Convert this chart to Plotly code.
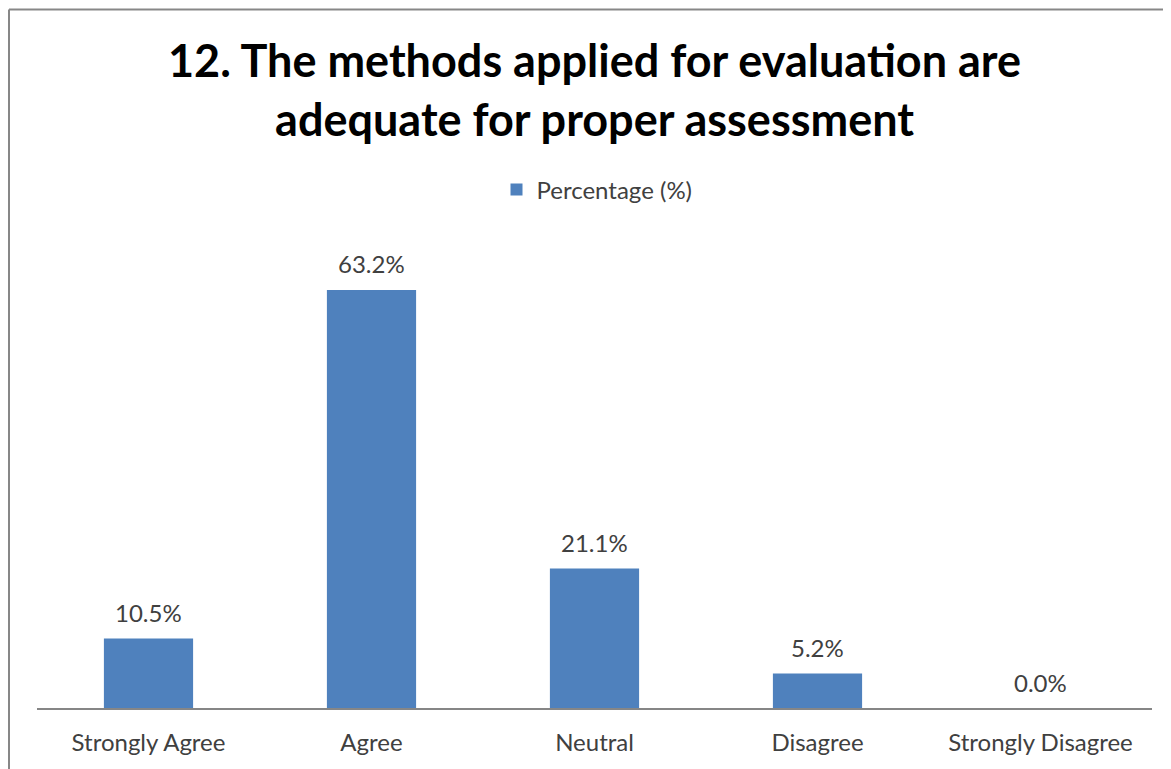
import plotly.graph_objects as go

categories = ["Strongly Agree", "Agree", "Neutral", "Disagree", "Strongly Disagree"]
values = [10.5, 63.2, 21.1, 5.2, 0.0]
series_name = "Percentage (%)"
title_lines = ["12. The methods applied for evaluation are", "adequate for proper assessment"]

# page is offset by 8px body margin; work in page pixel coordinates
OFF = 8
W, H = 1171 - OFF, 769 - OFF
PL, PR, PT, PB = 37, 1152, 245, 708  # plot area in page px
L, R, T, B = PL - OFF, W - (PR - OFF), PT - OFF, H - (PB - OFF)
pw, ph = W - L - R, H - T - B

def px_x(x):
    return (x - OFF - L) / pw

def px_y(y):
    return (H - B - (y - OFF)) / ph

FONT = "Lato, Open Sans, sans-serif"

fig = go.Figure()
fig.add_trace(go.Bar(
    x=categories, y=values, name=series_name,
    marker=dict(color="#4F81BD", line=dict(width=0)),
    width=0.4,
    cliponaxis=False,
    showlegend=True,
))

for c, v in zip(categories, values):
    fig.add_annotation(x=c, y=v, xref="x", yref="y", text=f"{v:.1f}%", showarrow=False,
                       yanchor="middle", yshift=26,
                       font=dict(size=24, color="#404040", family=FONT))

fig.update_layout(
    width=W, height=H,
    margin=dict(l=L, r=R, t=T, b=B),
    paper_bgcolor="white", plot_bgcolor="white",
    font=dict(family=FONT, color="#404040"),
    showlegend=True,
    legend=dict(orientation="h", x=px_x(597), xanchor="center", y=px_y(190), yanchor="middle",
                font=dict(size=24, color="#404040", family=FONT), bgcolor="rgba(0,0,0,0)"),
    xaxis=dict(showline=True, linecolor="#868686", linewidth=1.5, ticks="", showgrid=False,
               tickfont=dict(size=24, color="#404040", family=FONT), ticklabelstandoff=12),
    yaxis=dict(range=[0, 70], visible=False, showgrid=False, zeroline=False),
    bargap=0.6,
)

fig.add_annotation(text="<b>" + "<br>".join(title_lines) + "</b>", xref="paper", yref="paper",
                   x=px_x(594), y=px_y(89), xanchor="center", yanchor="middle", showarrow=False,
                   font=dict(size=45, color="#000000", family=FONT), align="center")

fig.add_shape(type="line", xref="paper", yref="paper", x0=px_x(9), x1=px_x(1200), y0=px_y(9.5), y1=px_y(9.5),
              line=dict(color="#878787", width=2))
fig.add_shape(type="line", xref="paper", yref="paper", x0=px_x(9), x1=px_x(9), y0=px_y(9.5), y1=px_y(800),
              line=dict(color="#878787", width=2))

fig.write_html("out.html")
